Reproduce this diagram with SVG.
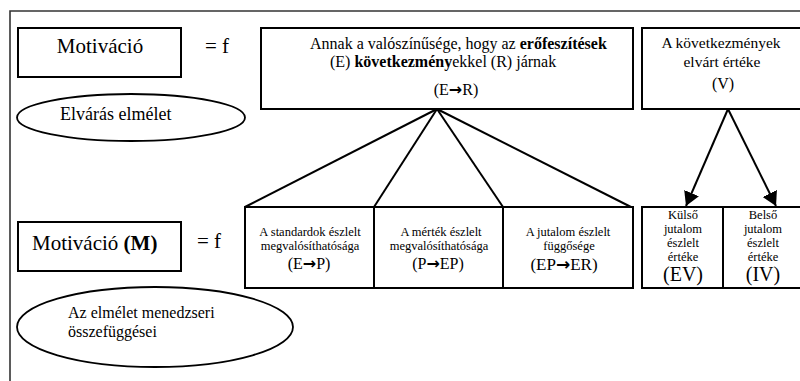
<svg xmlns="http://www.w3.org/2000/svg" width="800" height="381" viewBox="0 0 800 381" font-family="'Liberation Serif', 'Times New Roman', serif">
<defs>
<style>
.box{fill:#fff;stroke:#000;stroke-width:2}
.ell{fill:#fff;stroke:#000;stroke-width:1.8}
.ln{stroke:#000;stroke-width:2;fill:none}
.t{font-family:'Liberation Serif','Times New Roman',serif;fill:#000}
.c{text-anchor:middle}
.b{font-weight:bold}
.ar{font-family:'DejaVu Sans',sans-serif;font-weight:bold}
</style>
<marker id="ah" markerWidth="8" markerHeight="8" refX="7" refY="4" orient="auto" markerUnits="strokeWidth">
<path d="M0,0 L7,4 L0,8 Z" fill="#000"/>
</marker>
</defs>
<rect width="800" height="381" fill="#fff"/>
<g id="frame">
<path d="M10,381 V11 H800" fill="none" stroke="#333" stroke-width="1.6"/>
</g>
<g id="connectors">
<line class="ln" x1="437" y1="109" x2="245" y2="207"/>
<line class="ln" x1="437" y1="109" x2="374" y2="207"/>
<line class="ln" x1="437" y1="109" x2="503" y2="207"/>
<line class="ln" x1="437" y1="109" x2="631" y2="207"/>
<line class="ln" x1="728" y1="109" x2="686" y2="206" marker-end="url(#ah)"/>
<line class="ln" x1="728" y1="109" x2="776" y2="206" marker-end="url(#ah)"/>
</g>
<g id="motivacio">
<rect class="box" x="18" y="28" width="163" height="49"/>
<text class="t c" x="100" y="53" font-size="21">Motiváció</text>
</g>
<g id="eq1">
<text class="t" x="205" y="53" font-size="21">= f</text>
</g>
<g id="er-box">
<rect class="box" x="261" y="28" width="372" height="81"/>
<text class="t" x="310" y="49" font-size="16">Annak a valószínűsége, hogy az <tspan class="b">erőfeszítések</tspan></text>
<text class="t" x="330" y="67" font-size="16">(E) <tspan class="b">következmény</tspan>ekkel (R) járnak</text>
<text class="t c" x="456" y="95" font-size="16">(E<tspan class="ar">→</tspan>R)</text>
</g>
<g id="v-box">
<rect class="box" x="642" y="28" width="165" height="81"/>
<text class="t c" x="721" y="48" font-size="15.5">A következmények</text>
<text class="t c" x="722" y="67" font-size="15.5">elvárt értéke</text>
<text class="t c" x="723" y="89" font-size="16">(V)</text>
</g>
<g id="elvaras">
<ellipse class="ell" cx="131" cy="117.5" rx="114" ry="23.5"/>
<text class="t" x="60" y="120" font-size="18">Elvárás elmélet</text>
</g>
<g id="motivacio-m">
<rect class="box" x="18" y="222" width="163" height="49"/>
<text class="t" x="32" y="250" font-size="21">Motiváció <tspan class="b">(M)</tspan></text>
</g>
<g id="eq2">
<text class="t" x="197" y="248" font-size="21">= f</text>
</g>
<g id="ep-box">
<rect class="box" x="245" y="207" width="129" height="81"/>
<text class="t c" x="310" y="236" font-size="12.5">A standardok észlelt</text>
<text class="t c" x="310" y="250" font-size="12.5">megvalósíthatósága</text>
<text class="t c" x="309" y="269" font-size="16">(E<tspan class="ar">→</tspan>P)</text>
</g>
<g id="pep-box">
<rect class="box" x="374" y="207" width="129" height="81"/>
<text class="t c" x="441" y="236" font-size="12.5">A mérték észlelt</text>
<text class="t c" x="439" y="250" font-size="12.5">megvalósíthatósága</text>
<text class="t c" x="438" y="269" font-size="16">(P<tspan class="ar">→</tspan>EP)</text>
</g>
<g id="eper-box">
<rect class="box" x="503" y="207" width="130" height="81"/>
<text class="t c" x="568" y="236" font-size="12.5">A jutalom észlelt</text>
<text class="t c" x="569" y="250" font-size="12.5">függősége</text>
<text class="t c" x="564" y="270" font-size="17">(EP<tspan class="ar">→</tspan>ER)</text>
</g>
<g id="ev-box">
<rect class="box" x="642" y="207" width="81" height="81"/>
<text class="t c" x="683" y="219" font-size="12.5">Külső</text>
<text class="t c" x="683" y="233" font-size="12.5">jutalom</text>
<text class="t c" x="683" y="247" font-size="12.5">észlelt</text>
<text class="t c" x="683" y="261" font-size="12.5">értéke</text>
<text class="t c" x="683" y="281" font-size="20">(EV)</text>
</g>
<g id="iv-box">
<rect class="box" x="723" y="207" width="84" height="81"/>
<text class="t c" x="763" y="219" font-size="12.5">Belső</text>
<text class="t c" x="763" y="233" font-size="12.5">jutalom</text>
<text class="t c" x="763" y="247" font-size="12.5">észlelt</text>
<text class="t c" x="763" y="261" font-size="12.5">értéke</text>
<text class="t c" x="763" y="281" font-size="20">(IV)</text>
</g>
<g id="menedzseri">
<ellipse class="ell" cx="155" cy="327" rx="138" ry="40"/>
<text class="t" x="68" y="318" font-size="16">Az elmélet menedzseri</text>
<text class="t" x="68" y="337" font-size="16">összefüggései</text>
</g>
</svg>
